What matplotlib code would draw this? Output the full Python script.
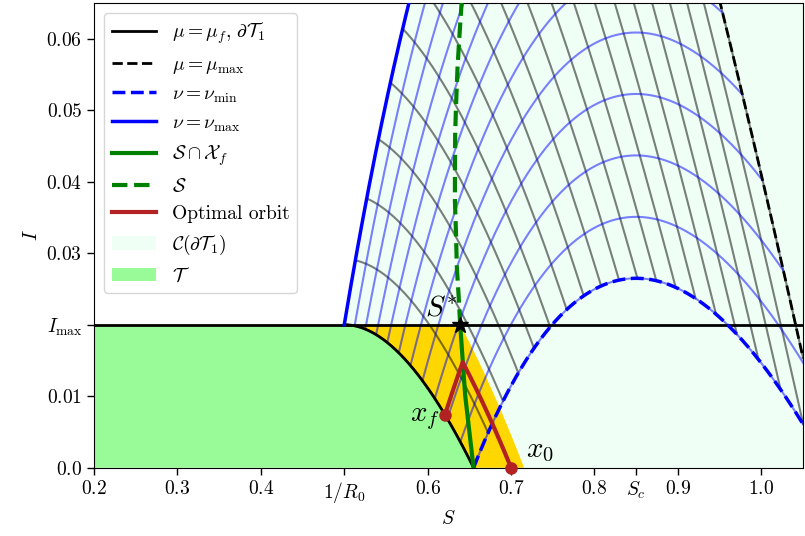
import numpy as np
import matplotlib
matplotlib.use('Agg')
import matplotlib.pyplot as plt
from matplotlib.patches import Patch
from matplotlib.lines import Line2D

plt.rcParams.update({
    'font.family': 'serif',
    'font.serif': ['cmr10', 'DejaVu Serif'],
    'mathtext.fontset': 'cm',
    'axes.unicode_minus': False,
    'font.size': 14,
})

# ---- model parameters ----
R0 = 2.0          # 1/R0 = 0.5
Sc = 0.85
I_max = 0.02
mu_max = 1.0410
n_mu_levels = 20
n_nu_levels = 12

# ---- optimal orbit key points ----
x0_S = 0.70
switch_S = 0.642

# ---- singular arc ----
arc_solid_S = [0.655, 0.645, 0.639]
arc_solid_I = [0.0, 0.0101, 0.020]
arc_dash_S = [0.639, 0.637, 0.635, 0.634, 0.6327, 0.6327, 0.633, 0.6342, 0.6358, 0.6382, 0.641]
arc_dash_I = [0.020, 0.0243, 0.0280, 0.0327, 0.0373, 0.0419, 0.0467, 0.0513, 0.0559, 0.0606, 0.0655]
S_star = 0.639

# ---- ticks ----
xticks = [0.2, 0.3, 0.4, 0.5, 0.6, 0.7, 0.8, 0.85, 0.9, 1.0]
xticklabels = [r'$0.2$', r'$0.3$', r'$0.4$', r'$1/R_0$', r'$0.6$', r'$0.7$', r'$0.8$', r'$S_c$', r'$0.9$', r'$1.0$']
yticks = [0.0, 0.01, 0.02, 0.03, 0.04, 0.05, 0.06]
yticklabels = [r'$0.0$', r'$0.01$', r'$I_{\max}$', r'$0.03$', r'$0.04$', r'$0.05$', r'$0.06$']


def mu(S, I):
    return I + S - np.log(S) / R0


def nu(S, I):
    return I + S - Sc * np.log(S)


mu_f = mu(1 / R0, I_max)
nu_max = nu(1 / R0, I_max)
Sg = np.linspace(0.5, 1.2, 20001)
S_f0 = np.interp(mu_f, Sg - np.log(Sg) / R0, Sg)
nu_min = nu(S_f0, 0.0)
mu_star = mu(S_star, I_max)
S_star0 = np.interp(mu_star, Sg - np.log(Sg) / R0, Sg)

fig = plt.figure(figsize=(8.05, 5.36), dpi=100)
ax = fig.add_axes([0.1168, 0.1274, 0.8807, 0.867])

# mint region C(dT1)
Sl = np.linspace(0.5, 0.62, 2000)
Il = nu_max - Sl + Sc * np.log(Sl)
keep = Il <= 0.075
poly_S = np.concatenate([Sl[keep], [1.2, 1.2, 0.5]])
poly_I = np.concatenate([Il[keep], [0.075, 0.0, 0.0]])
ax.fill(poly_S, poly_I, color='#f0fff6', lw=0, zorder=0)

# T region
Sf = np.linspace(0.5, S_f0, 800)
If = mu_f - Sf + np.log(Sf) / R0
If[-1] = 0.0
ax.fill(np.concatenate([[0.1, 0.1], Sf]), np.concatenate([[0.0, I_max], If]),
        color='palegreen', lw=0, zorder=1)

# yellow region
Ss = np.linspace(S_star0, S_star, 400)
Is = mu_star - Ss + np.log(Ss) / R0
Is[0] = 0.0
ax.fill(np.concatenate([Sf, Ss]), np.concatenate([If, Is]),
        color='gold', lw=0, zorder=1)

# grid of level curves
S = np.linspace(0.3, 1.1, 6000)
for m in np.linspace(mu_f, mu_max, n_mu_levels):
    I = m - S + np.log(S) / R0
    v = nu(S, I)
    mask = (v >= nu_min - 1e-7) & (v <= nu_max + 1e-7) & (I >= 0)
    ax.plot(S, np.where(mask, I, np.nan), color='k', alpha=0.5, lw=1.5, zorder=2)
for v in np.linspace(nu_min, nu_max, n_nu_levels):
    I = v - S + Sc * np.log(S)
    m = mu(S, I)
    mask = (m >= mu_f - 1e-7) & (m <= mu_max + 1e-7) & (I >= 0)
    ax.plot(S, np.where(mask, I, np.nan), color='b', alpha=0.5, lw=1.5, zorder=2)

# main curves
ax.axhline(I_max, color='k', lw=2, zorder=3)
ax.plot(Sf, If, color='k', lw=2, zorder=3)
Sm = np.linspace(0.85, 1.1, 2000)
Im = mu_max - Sm + np.log(Sm) / R0
ax.plot(Sm, Im, color='k', lw=2, ls='--', zorder=3)
Sn = np.linspace(S_f0, 1.1, 2000)
In = nu_min - Sn + Sc * np.log(Sn)
ax.plot(Sn, In, color='b', lw=2.5, ls='--', zorder=3)
Sx = np.linspace(0.5, 0.7, 2000)
Ix = nu_max - Sx + Sc * np.log(Sx)
ax.plot(Sx, np.where(Ix >= I_max, Ix, np.nan), color='b', lw=2.5, zorder=3)

ax.plot(arc_solid_S, arc_solid_I, color='green', lw=3, zorder=4)
ax.plot(arc_dash_S, arc_dash_I, color='green', lw=3, ls='--', zorder=4)

# optimal orbit
m0 = mu(x0_S, 0.0)
S1 = np.linspace(x0_S, switch_S, 200)
I1 = m0 - S1 + np.log(S1) / R0
I_sw = I1[-1]
v1 = nu(switch_S, I_sw)
S_xf = np.exp((mu_f - v1) / (Sc - 1 / R0))
S2 = np.linspace(switch_S, S_xf, 200)
I2 = v1 - S2 + Sc * np.log(S2)
ax.plot(np.concatenate([S1, S2]), np.concatenate([I1, I2]), color='firebrick', lw=3, zorder=5)
ax.plot([x0_S, S_xf], [0.0, I2[-1]], 'o', color='firebrick', ms=8, zorder=6, clip_on=False)

ax.plot([S_star], [I_max], marker='*', color='k', ms=12, zorder=7)

ax.text(S_star - 0.004, I_max + 0.0004, r'$S^{*}$', fontsize=21, ha='right', va='bottom', zorder=8)
ax.text(S_xf - 0.006, I2[-1] - 0.0005, r'$x_f$', fontsize=21, ha='right', va='center', zorder=8)
ax.text(x0_S + 0.018, 0.0024, r'$x_0$', fontsize=21, ha='left', va='center', zorder=8)

ax.set_xlim(0.2, 1.05)
ax.set_ylim(0.0, 0.065)
ax.set_xticks(xticks, xticklabels)
ax.set_yticks(yticks, yticklabels)
ax.tick_params(labelsize=14, length=5, width=1)
ax.set_xlabel(r'$S$', fontsize=14)
ax.set_ylabel(r'$I$', fontsize=14)

handles = [
    Line2D([], [], color='k', lw=2),
    Line2D([], [], color='k', lw=2, ls='--'),
    Line2D([], [], color='b', lw=2.5, ls='--'),
    Line2D([], [], color='b', lw=2.5),
    Line2D([], [], color='green', lw=3),
    Line2D([], [], color='green', lw=3, ls='--'),
    Line2D([], [], color='firebrick', lw=3),
    Patch(facecolor='#f0fff6', edgecolor='none'),
    Patch(facecolor='palegreen', edgecolor='none'),
]
labels = [r'$\mu=\mu_f,\,\partial\mathcal{T}_1$', r'$\mu=\mu_{\max}$', r'$\nu=\nu_{\min}$',
          r'$\nu=\nu_{\max}$', r'$\mathcal{S}\cap\mathcal{X}_f$', r'$\mathcal{S}$',
          'Optimal orbit', r'$\mathcal{C}(\partial\mathcal{T}_1)$', r'$\mathcal{T}$']
leg = ax.legend(handles, labels, loc='upper left', fontsize=14, handlelength=2.3, framealpha=0.8)
leg.set_zorder(10)

fig.savefig('out.png', dpi=100)
